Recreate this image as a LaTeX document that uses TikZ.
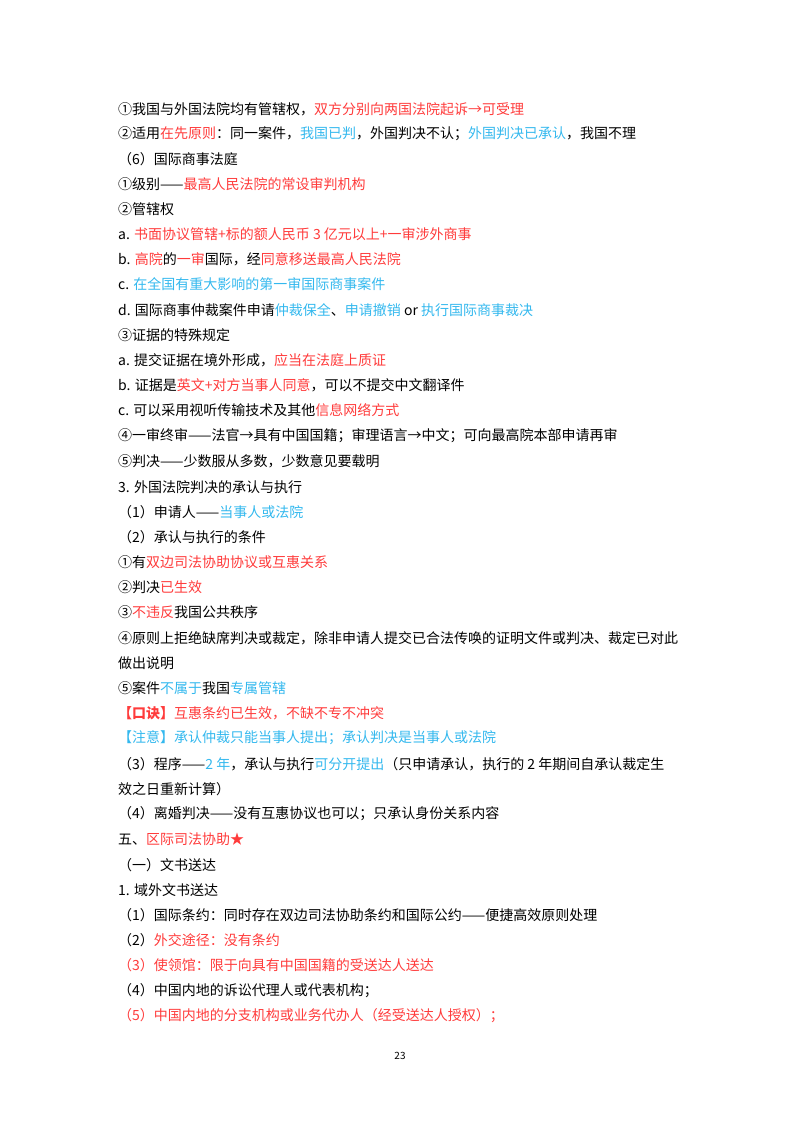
\documentclass[tikz,border=0pt]{standalone}
\usepackage{fontspec}
\setmainfont{Noto Sans CJK SC}
\usepackage{xcolor}
\definecolor{keyred}{HTML}{FF3B3B}
\definecolor{keyblue}{HTML}{33B8EE}
\newcommand{\hr}[1]{\textcolor{keyred}{#1}}
\newcommand{\hb}[1]{\textcolor{keyblue}{#1}}
\tikzset{
  txtline/.style={anchor=west,inner sep=0pt,font=\fontsize{14}{16}\selectfont},
  pagenum/.style={inner sep=0pt,font=\fontsize{10}{12}\selectfont}
}
\begin{document}
\begin{tikzpicture}[x=1pt,y=1pt]
  \useasboundingbox (0,0) rectangle (800,-1132);
  % first block: court
  \node[txtline] (l1) at (118,-109) {①我国与外国法院均有管辖权，\hr{双方分别向两国法院起诉→可受理}};
  \node[txtline] (l2) at (118,-134) {②适用\hr{在先原则}：同一案件，\hb{我国已判}，外国判决不认；\hb{外国判决已承认}，我国不理};
  \node[txtline] (l3) at (118,-159) {（6）国际商事法庭};
  \node[txtline] (l4) at (118,-184) {①级别——\hr{最高人民法院的常设审判机构}};
  \node[txtline] (l5) at (118,-209) {②管辖权};
  \node[txtline] (l6) at (118,-234) {a. \hr{书面协议管辖+标的额人民币 3 亿元以上+一审涉外商事}};
  \node[txtline] (l7) at (118,-259) {b. \hr{高院}的\hr{一审}国际，经\hr{同意移送最高人民法院}};
  \node[txtline] (l8) at (118,-284) {c. \hb{在全国有重大影响的第一审国际商事案件}};
  \node[txtline] (l9) at (118,-310) {d. 国际商事仲裁案件申请\hb{仲裁保全}、\hb{申请撤销} or \hb{执行国际商事裁决}};
  \node[txtline] (l10) at (118,-335) {③证据的特殊规定};
  \node[txtline] (l11) at (118,-360) {a. 提交证据在境外形成，\hr{应当在法庭上质证}};
  \node[txtline] (l12) at (118,-385) {b. 证据是\hr{英文+对方当事人同意}，可以不提交中文翻译件};
  \node[txtline] (l13) at (118,-410) {c. 可以采用视听传输技术及其他\hr{信息网络方式}};
  \node[txtline] (l14) at (118,-436) {④一审终审——法官→具有中国国籍；审理语言→中文；可向最高院本部申请再审};
  \node[txtline] (l15) at (118,-461) {⑤判决——少数服从多数，少数意见要载明};
  % second block: foreign judgments
  \node[txtline] (l16) at (118,-487) {3. 外国法院判决的承认与执行};
  \node[txtline] (l17) at (118,-512) {（1）申请人——\hb{当事人或法院}};
  \node[txtline] (l18) at (118,-537) {（2）承认与执行的条件};
  \node[txtline] (l19) at (118,-562) {①有\hr{双边司法协助协议或互惠关系}};
  \node[txtline] (l20) at (118,-587) {②判决\hr{已生效}};
  \node[txtline] (l21) at (118,-612) {③\hr{不违反}我国公共秩序};
  \node[txtline] (l22) at (118,-638) {④原则上拒绝缺席判决或裁定，除非申请人提交已合法传唤的证明文件或判决、裁定已对此};
  \node[txtline] (l23) at (118,-663) {做出说明};
  \node[txtline] (l24) at (118,-688) {⑤案件\hb{不属于}我国\hb{专属管辖}};
  \node[txtline] (l25) at (118,-713) {\hr{\textbf{【口诀】}互惠条约已生效，不缺不专不冲突}};
  \node[txtline] (l26) at (118,-738) {\hb{【注意】承认仲裁只能当事人提出；承认判决是当事人或法院}};
  \node[txtline] (l27) at (118,-764) {（3）程序——\hb{2 年}，承认与执行\hb{可分开提出}（只申请承认，执行的 2 年期间自承认裁定生};
  \node[txtline] (l28) at (118,-789) {效之日重新计算）};
  \node[txtline] (l29) at (118,-814) {（4）离婚判决——没有互惠协议也可以；只承认身份关系内容};
  % third block: interregional assistance
  \node[txtline] (l30) at (118,-839) {五、\hr{区际司法协助★}};
  \node[txtline] (l31) at (118,-865) {（一）文书送达};
  \node[txtline] (l32) at (118,-890) {1. 域外文书送达};
  \node[txtline] (l33) at (118,-915) {（1）国际条约：同时存在双边司法协助条约和国际公约——便捷高效原则处理};
  \node[txtline] (l34) at (118,-940) {（2）\hr{外交途径：没有条约}};
  \node[txtline] (l35) at (118,-965) {\hr{（3）使领馆：限于向具有中国国籍的受送达人送达}};
  \node[txtline] (l36) at (118,-991) {（4）中国内地的诉讼代理人或代表机构；};
  \node[txtline] (l37) at (118,-1016) {\hr{（5）中国内地的分支机构或业务代办人（经受送达人授权）；}};
  \node[pagenum] (pg) at (400,-1056) {23};
\end{tikzpicture}
\end{document}
